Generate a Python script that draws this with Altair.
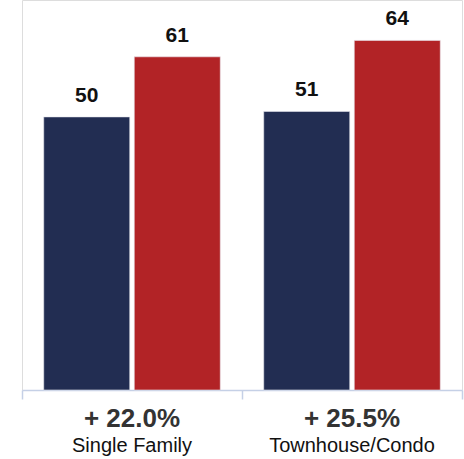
import altair as alt
import pandas as pd

groups = ["Single Family", "Townhouse/Condo"]
series = ["Prior", "Current"]
values_prior = [50, 51]
values_current = [61, 64]
changes = ["+ 22.0%", "+ 25.5%"]

rows = []
for g, a, b in zip(groups, values_prior, values_current):
    rows.append({"group": g, "series": "Prior", "value": a})
    rows.append({"group": g, "series": "Current", "value": b})
bars_df = pd.DataFrame(rows)
lab_df = pd.DataFrame({"group": groups, "change": changes})

FONT = "Liberation Sans"

x = alt.X("group:N", sort=groups, title=None,
          scale=alt.Scale(paddingInner=0, paddingOuter=0),
          axis=alt.Axis(labels=False, domainColor="#c5d0e6", tickColor="#c5d0e6",
                        domainWidth=1.5, tickWidth=1.5, tickSize=9, tickBand="extent"))
xo = alt.XOffset("series:N", sort=series,
                 scale=alt.Scale(paddingInner=0.05, paddingOuter=0.24))
y = alt.Y("value:Q", scale=alt.Scale(domain=[0, 71.4]), axis=None, title=None)

base = alt.Chart(bars_df).encode(x=x, xOffset=xo, y=y)

bars = base.mark_bar(stroke="#e8e8ee", strokeWidth=0.6).encode(
    color=alt.Color("series:N", sort=series,
                    scale=alt.Scale(domain=series, range=["#222d52", "#b22326"]),
                    legend=None)
)
vals = base.mark_text(font=FONT, fontSize=21, fontWeight="bold", color="#111111",
                      baseline="alphabetic", dy=-15).encode(text="value:Q")

lab_base = alt.Chart(lab_df).encode(x=alt.X("group:N", sort=groups))
pct = lab_base.mark_text(font=FONT, fontSize=26, fontWeight="bold", color="#333333",
                         baseline="alphabetic", align="center").encode(
    y=alt.value(37 + 390), text="change:N")
names = lab_base.mark_text(font=FONT, fontSize=20, color="#111111",
                           baseline="alphabetic", align="center").encode(
    y=alt.value(62 + 390), text="group:N")

chart = alt.layer(bars, vals, pct, names).properties(
    width=440, height=390,
    autosize=alt.AutoSizeParams(type="none"),
    padding={"left": 22, "top": 0, "right": 2, "bottom": 69},
).configure_view(stroke=None).configure(background="white")

chart.save("out.html", embed_options={"renderer": "svg", "actions": False})
